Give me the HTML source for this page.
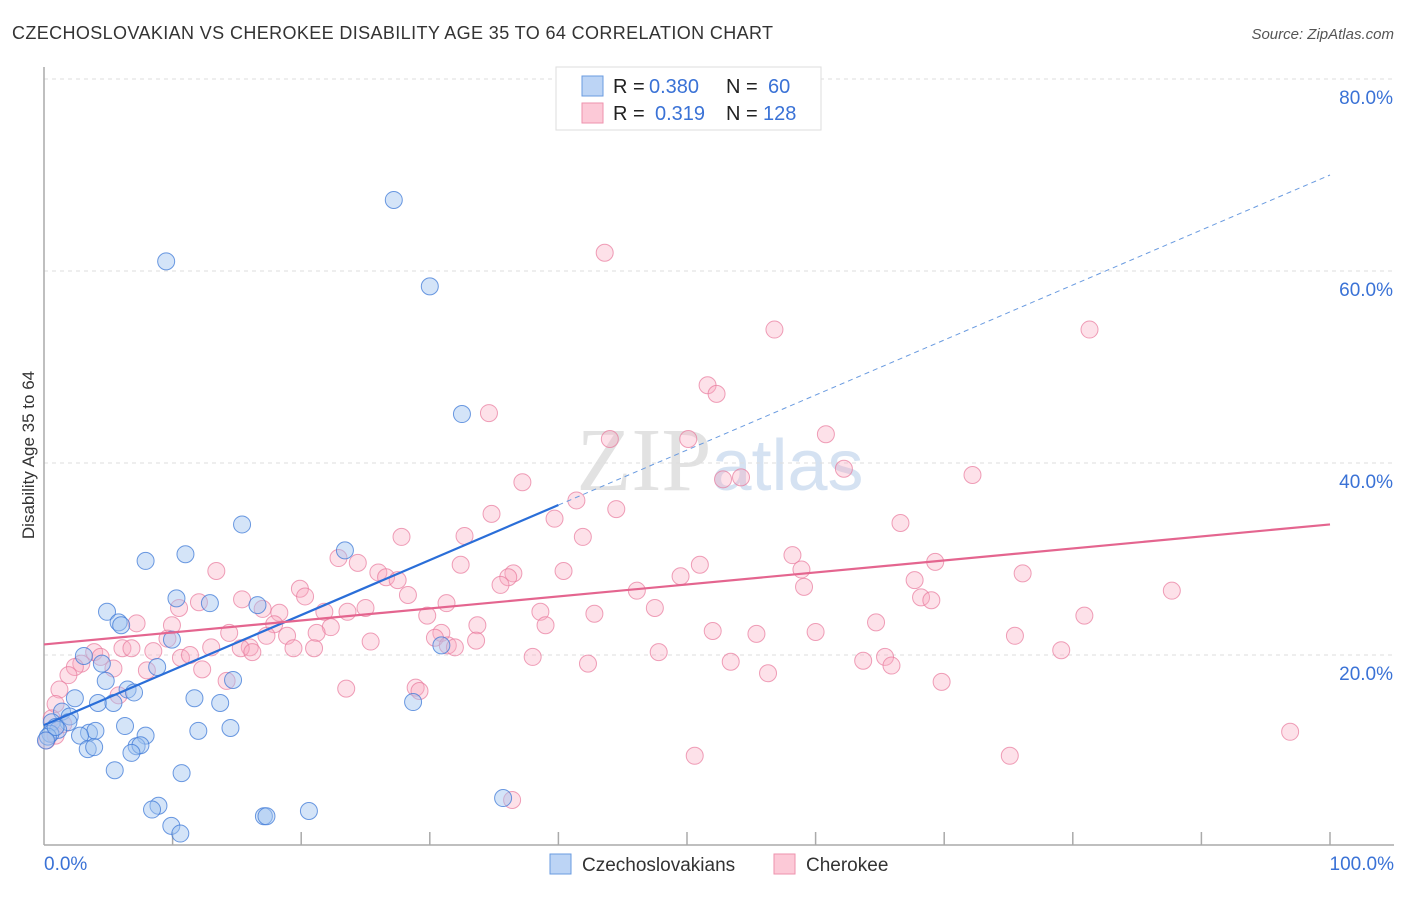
<!DOCTYPE html>
<html><head><meta charset="utf-8"><style>
body{margin:0;background:#fff;font-family:"Liberation Sans",sans-serif;}
svg text{font-family:"Liberation Sans",sans-serif;}
</style></head><body>
<svg id="chart" width="1406" height="892" xmlns="http://www.w3.org/2000/svg">
<text x="12" y="39" font-size="18" fill="#333" letter-spacing="0.38">CZECHOSLOVAKIAN VS CHEROKEE DISABILITY AGE 35 TO 64 CORRELATION CHART</text>
<text x="1394" y="39" font-size="15" fill="#555" font-style="italic" text-anchor="end">Source: ZipAtlas.com</text>
<text x="720" y="490" font-size="90" fill="#e2e2e2" text-anchor="middle" font-family="Liberation Serif"><tspan font-family="Liberation Serif">ZIP</tspan><tspan fill="#d5e2f2" font-family="Liberation Sans" font-size="72">atlas</tspan></text>
<g id="grid"></g>
<g id="axes"></g>
<text x="34" y="455" font-size="17" fill="#333" text-anchor="middle" transform="rotate(-90 34 455)">Disability Age 35 to 64</text>
<g id="pts"></g>
<g id="trends"></g>
<g>
<rect x="556" y="67" width="265" height="63" fill="#fff" stroke="#ddd"/>
<rect x="582" y="76" width="21" height="20" fill="#bcd4f5" stroke="#6a9be0"/>
<rect x="582" y="103" width="21" height="20" fill="#fcc9d7" stroke="#ee92ad"/>
<g font-size="20">
<text x="613" y="93" fill="#222">R =</text><text x="649" y="93" fill="#3a72d6">0.380</text>
<text x="726" y="93" fill="#222">N =</text><text x="768" y="93" fill="#3a72d6">60</text>
</g>
<g font-size="20">
<text x="613" y="120" fill="#222">R =</text><text x="655" y="120" fill="#3a72d6">0.319</text>
<text x="726" y="120" fill="#222">N =</text><text x="763" y="120" fill="#3a72d6">128</text>
</g>
</g>
<g>
<rect x="550" y="854" width="21" height="20" fill="#bcd4f5" stroke="#6a9be0"/>
<text x="582" y="871" font-size="19" fill="#333">Czechoslovakians</text>
<rect x="774" y="854" width="21" height="20" fill="#fcc9d7" stroke="#ee92ad"/>
<text x="806" y="871" font-size="19" fill="#333">Cherokee</text>
</g>
</svg>
<script>
const yTicks=[20,40,60,80];
const xTickCount=10;
const czechX=[27.2,9.5,30.0,32.5,15.4,11.0,23.4,7.9,10.3,12.9,16.6,4.9,5.8,6.0,9.95,30.9,3.1,4.5,8.8,4.8,14.7,6.5,7.0,2.4,11.7,28.7,4.2,5.4,13.7,1.4,2.0,0.6,1.9,6.3,14.5,12.0,1.1,0.5,3.5,4.0,7.9,2.8,0.3,7.2,7.5,3.4,3.9,6.8,5.5,10.7,35.7,8.9,8.4,20.6,17.1,17.3,9.9,10.6,0.9,0.15];
const czechY=[67.4,61.0,58.4,45.1,33.6,30.5,30.9,29.8,25.9,25.4,25.2,24.5,23.4,23.1,21.6,21.0,19.9,19.1,18.75,17.3,17.4,16.4,16.1,15.5,15.5,15.1,15.0,15.0,15.0,14.1,13.6,13.0,13.0,12.6,12.4,12.1,12.2,11.8,11.9,12.1,11.6,11.6,11.5,10.5,10.6,10.2,10.4,9.8,8.0,7.7,5.1,4.3,3.9,3.75,3.2,3.2,2.2,1.4,12.5,11.1];
const cheroX=[43.6,56.8,81.3,51.6,52.3,34.6,60.8,44.0,50.1,62.2,52.8,54.2,72.2,37.2,41.4,44.5,34.8,39.7,66.6,41.9,32.7,27.8,58.2,22.9,24.4,51.0,69.3,32.4,58.9,13.4,26.0,40.4,36.5,76.1,26.6,27.5,36.1,49.5,67.7,35.5,19.9,59.1,46.1,87.7,20.3,28.3,68.2,69.0,15.4,12.05,31.3,10.5,17.0,25.0,23.6,18.3,47.5,21.8,38.6,42.8,29.8,80.9,7.2,64.7,17.9,9.95,33.7,39.0,22.3,21.2,14.4,18.9,30.9,52.0,55.4,60.0,75.5,17.3,30.4,9.6,33.6,25.4,31.4,31.95,13.0,16.0,6.1,6.8,15.3,19.4,21.0,3.9,16.2,47.8,79.1,4.4,10.65,8.5,38.0,11.35,65.4,63.7,53.4,2.9,2.4,5.4,42.3,8.0,65.9,12.3,56.3,1.9,14.2,69.8,1.2,23.5,28.9,29.2,5.8,0.9,0.6,96.9,0.9,0.2,50.6,75.1,36.4,1.5];
const cheroY=[61.9,53.9,53.9,48.1,47.2,45.2,43.0,42.5,42.5,39.4,38.3,38.5,38.75,38.0,36.1,35.2,34.7,34.2,33.75,32.3,32.4,32.3,30.4,30.1,29.6,29.4,29.7,29.4,28.9,28.75,28.6,28.75,28.5,28.5,28.1,27.8,28.1,28.2,27.8,27.3,26.9,27.1,26.7,26.7,26.1,26.25,26.0,25.7,25.8,25.5,25.4,24.9,24.8,24.9,24.5,24.4,24.9,24.5,24.5,24.3,24.1,24.1,23.3,23.4,23.2,23.1,23.1,23.1,22.9,22.3,22.3,22.0,22.3,22.5,22.2,22.4,22.0,22.0,21.8,21.7,21.5,21.4,21.0,20.8,20.8,20.8,20.7,20.7,20.7,20.7,20.7,20.3,20.3,20.3,20.5,19.8,19.7,20.4,19.8,20.0,19.8,19.4,19.3,19.1,18.75,18.6,19.1,18.4,18.9,18.5,18.1,17.9,17.3,17.2,16.4,16.5,16.6,16.25,15.8,14.9,13.4,12.0,11.6,11.1,9.5,9.5,4.9,12.8];
const czechTrend=[12.7,70.0];
const cheroTrend=[21.1,33.6];

const NS='http://www.w3.org/2000/svg';
const X0=44,X1=1330,Y0=847,YPER=9.6;
function sx(v){return X0+(X1-X0)*v/100;}
function sy(v){return Y0-v*YPER;}
function mk(tag,attrs,parent){const e=document.createElementNS(NS,tag);for(const k in attrs)e.setAttribute(k,attrs[k]);parent.appendChild(e);return e;}
const grid=document.getElementById('grid'),axes=document.getElementById('axes'),pts=document.getElementById('pts'),tr=document.getElementById('trends');
yTicks.forEach(t=>{
  const l=mk('line',{x1:44,x2:1394,y1:sy(t),y2:sy(t),stroke:'#ddd','stroke-dasharray':'4 4'},grid);
  
  
  const tx=mk('text',{x:1393,y:sy(t)+25,'font-size':19,fill:'#3a72d6','text-anchor':'end'},grid);
  tx.textContent=t.toFixed(1)+'%';
  
  
});
const al=mk('line',{x1:44,x2:44,y1:67,y2:845,stroke:'#aaa','stroke-width':1.5},axes);


const bl=mk('line',{x1:44,x2:1394,y1:845,y2:845,stroke:'#aaa','stroke-width':1.5},axes);


for(let i=1;i<=xTickCount;i++){
  const tk=mk('line',{x1:sx(i*10),x2:sx(i*10),y1:832,y2:845,stroke:'#aaa','stroke-width':1.5},axes);
  
  
}
const xl0=mk('text',{x:44,y:870,'font-size':19,fill:'#3a72d6'},axes);xl0.textContent='0.0%';


const xl1=mk('text',{x:1394,y:870,'font-size':19,fill:'#3a72d6','text-anchor':'end'},axes);xl1.textContent='100.0%';



cheroX.forEach((x,i)=>{
  const c=mk('circle',{cx:sx(x),cy:sy(cheroY[i]),r:8.5,fill:'rgba(248,170,192,0.35)',stroke:'rgba(232,120,155,0.7)','stroke-width':1},pts);
  
  
});
czechX.forEach((x,i)=>{
  const c=mk('circle',{cx:sx(x),cy:sy(czechY[i]),r:8.5,fill:'rgba(160,195,240,0.45)',stroke:'rgba(60,120,215,0.75)','stroke-width':1},pts);
  
  
});
function ty(t,x){return t[0]+(t[1]-t[0])*x/100;}
const t1=mk('line',{x1:sx(0),y1:sy(ty(czechTrend,0)),x2:sx(40),y2:sy(ty(czechTrend,40)),stroke:'#2a6ed8','stroke-width':2.2},tr);


const t2=mk('line',{x1:sx(40),y1:sy(ty(czechTrend,40)),x2:sx(100),y2:sy(ty(czechTrend,100)),stroke:'#6a9be0','stroke-width':1,'stroke-dasharray':'5 4'},tr);


const t3=mk('line',{x1:sx(0),y1:sy(ty(cheroTrend,0)),x2:sx(100),y2:sy(ty(cheroTrend,100)),stroke:'#e4658f','stroke-width':2.2},tr);


</script>
</body></html>
